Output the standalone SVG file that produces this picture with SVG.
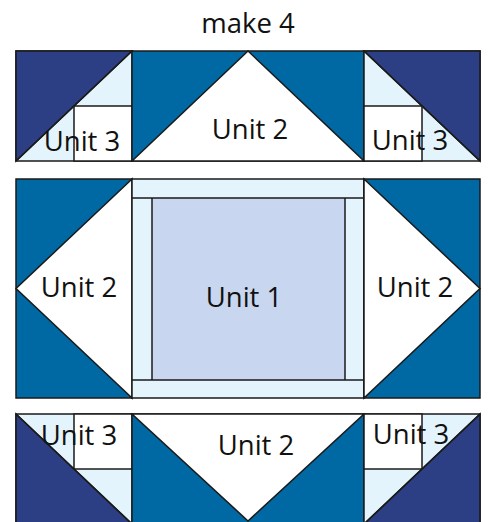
<svg xmlns="http://www.w3.org/2000/svg" width="489" height="522" viewBox="0 0 489 522">
<style>
.navy{fill:#2c3f84}
.teal{fill:#0068a2}
.lb{fill:#e3f4fc}
.wh{fill:#ffffff}
.c1{fill:#c8d6ef}
.s{stroke:#1a1a1a;stroke-width:1.5;stroke-linejoin:miter}
.ln{fill:none;stroke:#1a1a1a;stroke-width:1.5}
text{font-family:"Open Sans","Noto Sans","Liberation Sans",sans-serif;font-size:27.5px;fill:#111;text-anchor:middle}
</style>
<rect width="489" height="522" fill="#ffffff"/>
<text id="title" x="248" y="33">make 4</text>

<g id="unit3-top-left">
<rect class="lb s" x="16" y="51" width="116" height="110"/>
<polygon class="navy s" points="16,51 132,51 16,161"/>
<rect class="wh s" x="74" y="106" width="58" height="55"/>
<line class="ln" x1="16" y1="161" x2="132" y2="51"/>
<text x="82" y="151">Unit 3</text>
</g>

<g id="unit2-top">
<rect class="teal s" x="132" y="51" width="232" height="110"/>
<polygon class="wh s" points="132,161 248,51 364,161"/>
<text x="250" y="139">Unit 2</text>
</g>

<g id="unit3-top-right">
<rect class="lb s" x="364" y="51" width="116" height="110"/>
<polygon class="navy s" points="364,51 480,51 480,161"/>
<rect class="wh s" x="364" y="106" width="58" height="55"/>
<line class="ln" x1="364" y1="51" x2="480" y2="161"/>
<text x="410" y="150">Unit 3</text>
</g>

<g id="unit2-left">
<rect class="teal s" x="16" y="179" width="116" height="219"/>
<polygon class="wh s" points="132,179 16,288.5 132,398"/>
<text x="79" y="297">Unit 2</text>
</g>

<g id="unit1">
<rect class="lb s" x="132" y="179" width="232" height="219"/>
<rect class="c1" x="152" y="198" width="193" height="182"/>
<line class="ln" x1="132" y1="198" x2="364" y2="198"/>
<line class="ln" x1="132" y1="380" x2="364" y2="380"/>
<line class="ln" x1="152" y1="198" x2="152" y2="380"/>
<line class="ln" x1="345" y1="198" x2="345" y2="380"/>
<text x="244" y="307">Unit 1</text>
</g>

<g id="unit2-right">
<rect class="teal s" x="364" y="179" width="116" height="219"/>
<polygon class="wh s" points="364,179 480,288.5 364,398"/>
<text x="415" y="297">Unit 2</text>
</g>

<g id="unit3-bottom-left">
<rect class="lb s" x="16" y="414" width="116" height="110"/>
<polygon class="navy s" points="16,414 132,524 16,524"/>
<rect class="wh s" x="74" y="414" width="58" height="55"/>
<line class="ln" x1="16" y1="414" x2="132" y2="524"/>
<text x="79" y="445">Unit 3</text>
</g>

<g id="unit2-bottom">
<rect class="teal s" x="132" y="414" width="232" height="110"/>
<polygon class="wh s" points="132,414 364,414 248,521"/>
<text x="256" y="455">Unit 2</text>
</g>

<g id="unit3-bottom-right">
<rect class="lb s" x="364" y="414" width="116" height="110"/>
<polygon class="navy s" points="480,414 480,524 364,524"/>
<rect class="wh s" x="364" y="414" width="58" height="55"/>
<line class="ln" x1="480" y1="414" x2="364" y2="524"/>
<text x="411" y="444">Unit 3</text>
</g>

<g id="connectors"></g>
</svg>
